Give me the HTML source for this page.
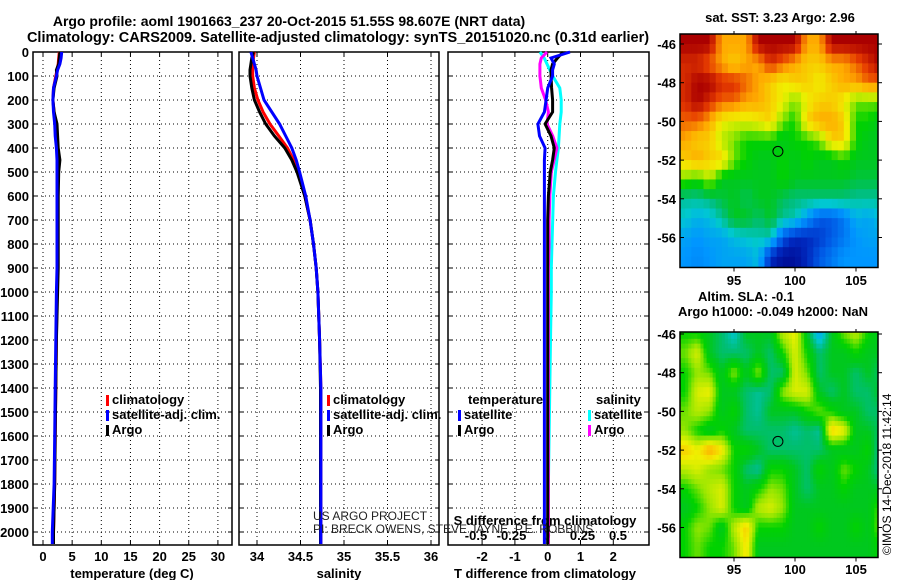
<!DOCTYPE html>
<html><head><meta charset="utf-8"><style>
body{margin:0;background:#fff}
svg{display:block}
text{font-family:"Liberation Sans",sans-serif}
.b{font-weight:bold;font-size:13px}
</style></head><body>
<svg id="s" width="900" height="580" xmlns="http://www.w3.org/2000/svg">
<text x="289" y="26" text-anchor="middle" style="font-weight:bold;font-size:14px">Argo profile: aoml 1901663_237 20-Oct-2015 51.55S 98.607E (NRT data)</text>
<text x="338" y="42" text-anchor="middle" style="font-weight:bold;font-size:14.5px">Climatology: CARS2009. Satellite-adjusted climatology: synTS_20151020.nc (0.31d earlier)</text>
<text x="780" y="22" text-anchor="middle" class="b">sat. SST: 3.23 Argo: 2.96</text>
<text x="746" y="301" text-anchor="middle" class="b">Altim. SLA: -0.1</text>
<text x="773" y="316" text-anchor="middle" class="b">Argo h1000: -0.049 h2000: NaN</text>
<text transform="translate(891,555) rotate(-90)" style="font-size:12px">©IMOS 14-Dec-2018 11:42:14</text>
</svg>
<script>
const NS="http://www.w3.org/2000/svg";
const svg=document.getElementById('s');
function el(tag,attrs,parent){const e=document.createElementNS(NS,tag);for(const k in attrs)e.setAttribute(k,attrs[k]);(parent||svg).appendChild(e);return e;}
function txt(x,y,s,cls,anchor,parent){const t=el('text',{x:x,y:y,'text-anchor':anchor||'middle'},parent);if(cls)t.setAttribute('class',cls);t.textContent=s;return t;}

// ---------- data ----------
const depths=[0,25,50,75,100,150,200,250,300,350,400,450,500,600,700,800,900,1000,1200,1400,1600,1800,2000,2050];
const tempClim=[2.8,2.7,2.6,2.4,2.2,1.8,1.7,1.9,2.1,2.3,2.4,2.5,2.5,2.5,2.5,2.5,2.5,2.4,2.3,2.2,2.1,2.0,1.8,1.8];
const tempSat=[3.2,3.1,2.9,2.5,2.3,1.8,1.7,1.8,2.0,2.1,2.3,2.4,2.4,2.4,2.4,2.4,2.4,2.3,2.2,2.1,2.0,1.9,1.6,1.6];
const tempArgo=[2.9,2.8,2.7,2.3,2.4,1.9,1.7,1.9,2.4,2.5,2.6,2.9,2.7,2.6,2.6,2.6,2.6,2.5,2.3,2.2,2.1,2.0,1.8,1.8];
const salClim=[33.97,33.96,33.95,33.95,33.95,33.97,34.01,34.07,34.15,34.25,34.35,34.42,34.47,34.55,34.61,34.65,34.68,34.70,34.72,34.735,34.735,34.735,34.735,34.735];
const salSat=[33.93,33.95,33.97,33.99,34.0,34.04,34.08,34.17,34.26,34.33,34.40,34.45,34.49,34.56,34.61,34.65,34.68,34.70,34.72,34.735,34.735,34.735,34.735,34.735];
const salArgo=[33.96,33.94,33.93,33.92,33.92,33.94,33.97,34.03,34.10,34.20,34.32,34.40,34.46,34.55,34.61,34.65,34.68,34.70,34.72,34.73,34.73,34.73,34.73,34.73];
const dTSat=[0.68,0.1,0.2,0.15,0.15,0,-0.05,-0.1,-0.3,-0.25,-0.08,-0.1,-0.1,-0.1,-0.1,-0.1,-0.1,-0.1,-0.1,-0.1,-0.1,-0.1,-0.1,-0.1];
const dTArgo=[0.47,0.3,0.15,0.1,0.1,0.12,0.15,0.15,-0.08,0.1,0.2,0.15,0.08,0.02,0,0,0,0,0,0,0,0,0,0];
const dSArgo=[0,-0.04,-0.05,-0.05,-0.05,-0.04,-0.01,0.01,0,0.04,0.07,0.05,0.03,0.02,0.015,0.015,0.01,0.01,0.01,0.01,0.01,0.01,0.01,0.01];
const dSSat=[-0.05,-0.02,0,0.02,0.04,0.09,0.1,0.1,0.09,0.085,0.08,0.07,0.06,0.045,0.04,0.035,0.03,0.03,0.025,0.02,0.015,0.01,0.005,0.005];
const depthTicks=[0,100,200,300,400,500,600,700,800,900,1000,1100,1200,1300,1400,1500,1600,1700,1800,1900,2000];
const tempTicks=[0,5,10,15,20,25,30];
const salTicks=[34,34.5,35,35.5,36];
const salTickLabels=['34','34.5','35','35.5','36'];
const dTTicks=[-2,-1,0,1,2];
const dSTicks=[-0.5,-0.25,0,0.25,0.5];
const latTicks=[-46,-48,-50,-52,-54,-56];
const lonTicks=[95,100,105];
const argoLon=98.6, argoLat=-51.55;
const sstGrid=[
[.95,.95,.95,.8,.8,.8,.95,.95,.95,.95,.8,.8,.95,.95,.95,.95,.95],
[.9,.9,.85,.8,.75,.8,.8,.9,.85,.8,.75,.75,.8,.8,.85,.9,.95],
[.9,.95,.95,.9,.9,.85,.8,.75,.7,.75,.75,.7,.75,.8,.8,.85,.85],
[.9,.95,.9,.85,.85,.8,.8,.75,.7,.6,.7,.75,.75,.7,.6,.6,.6],
[.85,.85,.8,.7,.68,.68,.7,.75,.6,.55,.75,.8,.8,.75,.55,.55,.5],
[.8,.75,.75,.65,.6,.55,.55,.55,.5,.55,.55,.6,.75,.75,.55,.5,.5],
[.75,.8,.75,.75,.6,.55,.5,.5,.55,.5,.55,.5,.5,.55,.5,.5,.5],
[.6,.55,.65,.5,.5,.5,.5,.5,.55,.5,.5,.5,.5,.5,.48,.48,.48],
[.42,.42,.44,.48,.5,.46,.5,.5,.46,.44,.44,.44,.44,.44,.42,.42,.42],
[.38,.34,.36,.42,.5,.5,.45,.5,.42,.4,.3,.2,.2,.25,.34,.32,.36],
[.32,.3,.32,.32,.36,.38,.4,.4,.2,.12,.12,.15,.2,.25,.3,.32,.32],
[.3,.28,.3,.32,.32,.32,.36,.12,.05,.05,.12,.2,.25,.3,.3,.3,.3]];
const slaGrid=[
[.55,.55,.5,.45,.38,.5,.5,.5,.65,.7,.5,.32,.5,.6,.65,.55,.5],
[.6,.68,.5,.45,.45,.45,.5,.45,.55,.68,.55,.45,.5,.5,.55,.5,.5],
[.55,.62,.6,.5,.62,.5,.62,.45,.45,.68,.6,.45,.5,.5,.45,.5,.45],
[.55,.68,.7,.5,.5,.45,.42,.45,.62,.68,.68,.5,.45,.5,.45,.45,.5],
[.6,.65,.62,.5,.55,.45,.42,.5,.5,.5,.55,.6,.55,.5,.5,.45,.45],
[.62,.55,.5,.55,.5,.45,.45,.45,.45,.42,.45,.42,.75,.7,.5,.5,.45],
[.75,.7,.8,.72,.55,.55,.5,.45,.45,.45,.45,.45,.5,.5,.5,.55,.4],
[.65,.68,.62,.6,.55,.45,.42,.55,.55,.5,.45,.55,.5,.6,.55,.5,.42],
[.55,.6,.65,.68,.55,.5,.55,.62,.6,.5,.45,.5,.5,.55,.5,.5,.5],
[.5,.55,.62,.68,.55,.5,.65,.68,.62,.5,.5,.5,.5,.5,.5,.5,.6],
[.55,.62,.6,.5,.65,.75,.55,.55,.55,.5,.5,.55,.5,.5,.55,.5,.62],
[.55,.6,.55,.55,.6,.72,.5,.5,.5,.5,.5,.5,.5,.5,.5,.5,.55]];

// ---------- scales ----------
const yD=d=>52+d*0.24;
const panels=[{x0:33,x1:232},{x0:239,x1:439},{x0:448,x1:649}];
const xT=t=>43+5.83*t;
const xS=s=>257+87*(s-34);
const xdT=d=>547.7+32.8*d;
const xdS=d=>547+142*d;

function panelFrame(p,name){
  const g=el('g',{});
  
  
  el('rect',{x:p.x0,y:52,width:p.x1-p.x0,height:493,fill:'#fff',stroke:'#000','stroke-width':1.5},g);
  depthTicks.forEach(d=>{
    el('line',{x1:p.x0,x2:p.x1,y1:yD(d),y2:yD(d),stroke:'#000','stroke-dasharray':'1,3','stroke-width':1},g);
    el('line',{x1:p.x0,x2:p.x0+4,y1:yD(d),y2:yD(d),stroke:'#000'},g);
    el('line',{x1:p.x1-4,x2:p.x1,y1:yD(d),y2:yD(d),stroke:'#000'},g);
  });
  return g;
}
function vgrid(g,ticks,fx){ticks.forEach(t=>{el('line',{x1:fx(t),x2:fx(t),y1:52,y2:545,stroke:'#000','stroke-dasharray':'1,3'},g);el('line',{x1:fx(t),x2:fx(t),y1:541,y2:545,stroke:'#000'},g);el('line',{x1:fx(t),x2:fx(t),y1:52,y2:56,stroke:'#000'},g);});}
function line(vals,fx,color,name,w){
  const pts=vals.map((v,i)=>fx(v).toFixed(1)+','+yD(depths[i]).toFixed(1)).join(' ');
  const l=el('polyline',{points:pts,fill:'none',stroke:color,'stroke-width':w||3});
  
  
}
function legend(x,y,items,name){
  const g=el('g',{});
  
  
  items.forEach((it,i)=>{
    if(it[1])el('rect',{x:x,y:y+i*15-9,width:3,height:11,fill:it[1]},g);
    txt(x+(it[1]?6:0),y+i*15,it[0],'b','start',g);
  });
}

const yl=el('g',{});


depthTicks.forEach(d=>txt(29,yD(d)+5,String(d),'b','end',yl));

// panel 1
const g1=panelFrame(panels[0],'temperature-panel');
vgrid(g1,tempTicks,xT);
tempTicks.forEach(t=>txt(xT(t),561,String(t),'b','middle',g1));
txt(132,578,'temperature (deg C)','b','middle',g1);
line(tempClim,xT,'#f00','temp-climatology-line');
line(tempArgo,xT,'#000','temp-argo-line');
line(tempSat,xT,'#00f','temp-satellite-line');
legend(106,404,[['climatology','#f00'],['satellite-adj. clim.','#00f'],['Argo','#000']],'temperature-legend');

// panel 2
const g2=panelFrame(panels[1],'salinity-panel');
vgrid(g2,salTicks,xS);
salTicks.forEach((t,i)=>txt(xS(t),561,salTickLabels[i],'b','middle',g2));
txt(339,578,'salinity','b','middle',g2);
line(salClim,xS,'#f00','sal-climatology-line');
line(salArgo,xS,'#000','sal-argo-line');
line(salSat,xS,'#00f','sal-satellite-line');
legend(327,404,[['climatology','#f00'],['satellite-adj. clim.','#00f'],['Argo','#000']],'salinity-legend');

// panel 3
const g3=panelFrame(panels[2],'difference-panel');
vgrid(g3,dTTicks,xdT);
dTTicks.forEach(t=>txt(xdT(t),561,String(t),'b','middle',g3));
line(dSSat,xdS,'#0ff','sal-diff-satellite-line');
line(dSArgo,xdS,'#f0f','sal-diff-argo-line');
line(dTArgo,xdT,'#000','temp-diff-argo-line');
line(dTSat,xdT,'#00f','temp-diff-satellite-line');
dSTicks.forEach(t=>txt(xdS(t),540,String(t),'b','middle',g3));
txt(545,525,'S difference from climatology','b','middle',g3);
txt(545,578,'T difference from climatology','b','middle',g3);
legend(468,404,[['temperature',null]],'diff-temp-legend-title');
legend(458,419,[['satellite','#00f'],['Argo','#000']],'diff-temp-legend');
legend(596,404,[['salinity',null]],'diff-sal-legend-title');
legend(588,419,[['satellite','#0ff'],['Argo','#f0f']],'diff-sal-legend');

const c1=txt(313,520,'US ARGO PROJECT',null,'start');
c1.setAttribute('style','font-size:12px;fill:#222');


const c2=txt(313,533,'PI: BRECK OWENS, STEVE JAYNE, P.E. ROBBINS',null,'start');
c2.setAttribute('style','font-size:12px;fill:#222');



// ---------- maps ----------
const stops=[[0,[0,0,130]],[0.12,[0,40,190]],[0.2,[0,90,230]],[0.3,[0,150,255]],[0.38,[0,200,210]],[0.44,[0,190,120]],[0.5,[0,200,30]],[0.55,[0,210,0]],[0.62,[150,230,0]],[0.7,[240,240,0]],[0.8,[255,170,0]],[0.88,[230,60,0]],[0.95,[170,0,0]],[1,[150,0,0]]];
function cmap(v){
  for(let k=1;k<stops.length;k++){
    if(v<=stops[k][0]){const a=stops[k-1],b=stops[k];const f=(v-a[0])/(b[0]-a[0]);
      const c=a[1].map((x,i)=>Math.round(x+(b[1][i]-x)*f));return `rgb(${c})`;}
  }
  return 'rgb(150,0,0)';
}
function map(grid,top,latY0,name,lonLabelY,sub){
  const xL=lon=>734+(lon-95)*12.2;
  const yL=lat=>latY0+(-46-lat)*19.35;
  const g=el('g',{});
  
  
  const x0=680,x1=878,y1=yL(-57.55);
  const R=grid.length,C=grid[0].length;
  const val=(r,c)=>grid[Math.min(Math.max(r,0),R-1)][Math.min(Math.max(c,0),C-1)];
  for(let j=0;j<R*sub;j++)for(let i=0;i<C*sub;i++){
    const fr=(j+0.5)/sub-0.5, fc=(i+0.5)/sub-0.5;
    const r0=Math.floor(fr),c0=Math.floor(fc),a=fr-r0,b=fc-c0;
    const v=val(r0,c0)*(1-a)*(1-b)+val(r0,c0+1)*(1-a)*b+val(r0+1,c0)*a*(1-b)+val(r0+1,c0+1)*a*b;
    const lon0=90.5+i/sub, lat0=-45.5-j/sub;
    const xa=Math.max(xL(lon0),x0), xb=Math.min(xL(lon0+1/sub),x1);
    const ya=Math.max(yL(lat0),top), yb=Math.min(yL(lat0-1/sub),y1);
    if(xb<=xa||yb<=ya)continue;
    const c=el('rect',{x:xa,y:ya,width:xb-xa+0.5,height:yb-ya+0.5,fill:cmap(v)},g);
    
    
  }
  el('rect',{x:x0,y:top,width:x1-x0,height:y1-top,fill:'none',stroke:'#000','stroke-width':1.5},g);
  latTicks.forEach(l=>{txt(676,yL(l)+5,String(l),'b','end',g);el('line',{x1:x0,x2:x0+4,y1:yL(l),y2:yL(l),stroke:'#000'},g);el('line',{x1:x1,x2:x1+4,y1:yL(l),y2:yL(l),stroke:'#000'},g);});
  lonTicks.forEach(l=>{txt(xL(l),lonLabelY,String(l),'b','middle',g);el('line',{x1:xL(l),x2:xL(l),y1:y1,y2:y1+4,stroke:'#000'},g);el('line',{x1:xL(l),x2:xL(l),y1:top-3,y2:top,stroke:'#000'},g);});
  const c=el('circle',{cx:xL(argoLon),cy:yL(argoLat),r:5,fill:'none',stroke:'#000','stroke-width':1},g);
  
  
}
map(sstGrid,34,44,'sst-map',285,2);
map(slaGrid,332,334,'sla-map',574,4);
</script>
</body></html>
